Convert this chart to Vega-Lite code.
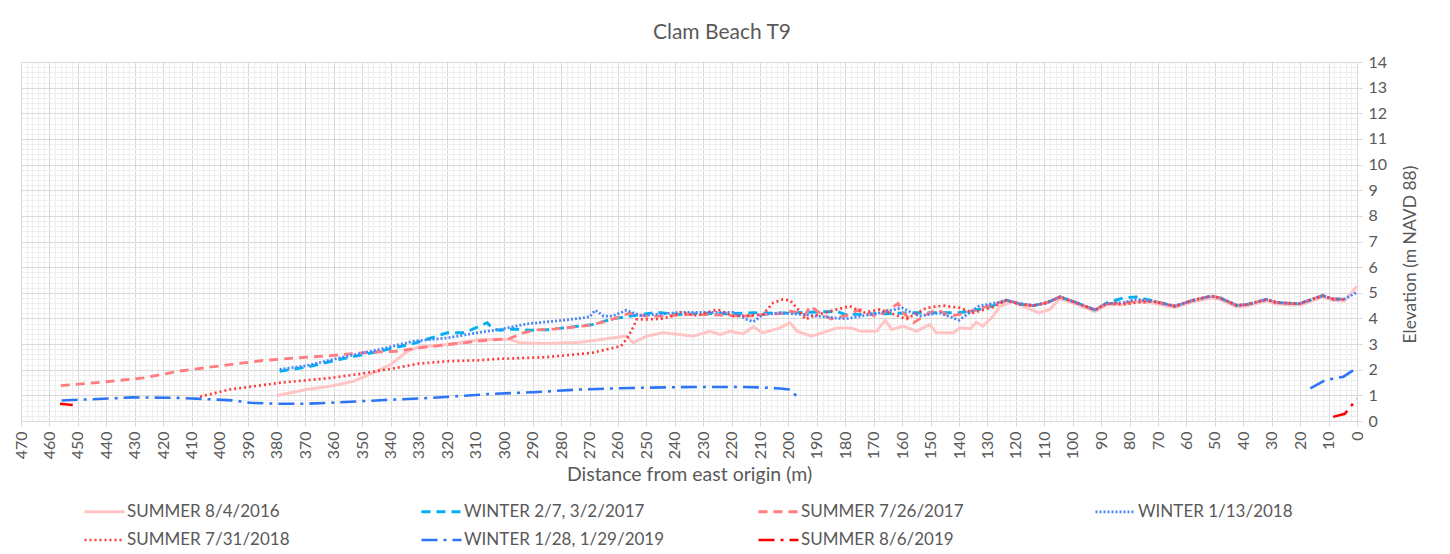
{
  "$schema": "https://vega.github.io/schema/vega-lite/v6.json",
  "width": 1336,
  "height": 359,
  "autosize": {"type": "none"},
  "padding": {"left": 21, "top": 62, "right": 93, "bottom": 133},
  "background": "#ffffff",
  "title": {"text": "Clam Beach T9", "fontSize": 21, "color": "#595959", "fontWeight": "normal", "anchor": "middle", "dx": 33, "dy": 31, "offset": 25, "baseline": "alphabetic", "font": "Lato"},
  "config": {"font": "Lato", "view": {"stroke": null}},
  "data": {"values": [
    {"s":"SUMMER 8/4/2016","g":"a","d":380,"e":0.99},{"s":"SUMMER 8/4/2016","g":"a","d":369.5,"e":1.23},{"s":"SUMMER 8/4/2016","g":"a","d":361,"e":1.36},{"s":"SUMMER 8/4/2016","g":"a","d":353,"e":1.55},{"s":"SUMMER 8/4/2016","g":"a","d":346,"e":1.88},{"s":"SUMMER 8/4/2016","g":"a","d":340,"e":2.2},{"s":"SUMMER 8/4/2016","g":"a","d":334,"e":2.72},{"s":"SUMMER 8/4/2016","g":"a","d":330,"e":2.89},{"s":"SUMMER 8/4/2016","g":"a","d":320,"e":2.98},{"s":"SUMMER 8/4/2016","g":"a","d":308.5,"e":3.18},{"s":"SUMMER 8/4/2016","g":"a","d":298,"e":3.18},{"s":"SUMMER 8/4/2016","g":"a","d":294.5,"e":3.05},{"s":"SUMMER 8/4/2016","g":"a","d":285,"e":3.02},{"s":"SUMMER 8/4/2016","g":"a","d":279,"e":3.05},{"s":"SUMMER 8/4/2016","g":"a","d":273,"e":3.07},{"s":"SUMMER 8/4/2016","g":"a","d":266,"e":3.18},{"s":"SUMMER 8/4/2016","g":"a","d":262,"e":3.24},{"s":"SUMMER 8/4/2016","g":"a","d":257,"e":3.31},{"s":"SUMMER 8/4/2016","g":"a","d":254.6,"e":3.05},{"s":"SUMMER 8/4/2016","g":"a","d":250,"e":3.31},{"s":"SUMMER 8/4/2016","g":"a","d":244,"e":3.44},{"s":"SUMMER 8/4/2016","g":"a","d":238,"e":3.37},{"s":"SUMMER 8/4/2016","g":"a","d":233.5,"e":3.31},{"s":"SUMMER 8/4/2016","g":"a","d":227.6,"e":3.5},{"s":"SUMMER 8/4/2016","g":"a","d":224,"e":3.37},{"s":"SUMMER 8/4/2016","g":"a","d":220.6,"e":3.5},{"s":"SUMMER 8/4/2016","g":"a","d":216,"e":3.4},{"s":"SUMMER 8/4/2016","g":"a","d":212.4,"e":3.67},{"s":"SUMMER 8/4/2016","g":"a","d":209,"e":3.44},{"s":"SUMMER 8/4/2016","g":"a","d":203,"e":3.63},{"s":"SUMMER 8/4/2016","g":"a","d":199.5,"e":3.83},{"s":"SUMMER 8/4/2016","g":"a","d":197,"e":3.5},{"s":"SUMMER 8/4/2016","g":"a","d":192,"e":3.31},{"s":"SUMMER 8/4/2016","g":"a","d":188,"e":3.44},{"s":"SUMMER 8/4/2016","g":"a","d":183,"e":3.63},{"s":"SUMMER 8/4/2016","g":"a","d":178,"e":3.63},{"s":"SUMMER 8/4/2016","g":"a","d":174.7,"e":3.5},{"s":"SUMMER 8/4/2016","g":"a","d":169,"e":3.5},{"s":"SUMMER 8/4/2016","g":"a","d":166,"e":3.93},{"s":"SUMMER 8/4/2016","g":"a","d":163.7,"e":3.57},{"s":"SUMMER 8/4/2016","g":"a","d":159.6,"e":3.7},{"s":"SUMMER 8/4/2016","g":"a","d":155,"e":3.5},{"s":"SUMMER 8/4/2016","g":"a","d":150.3,"e":3.76},{"s":"SUMMER 8/4/2016","g":"a","d":148,"e":3.44},{"s":"SUMMER 8/4/2016","g":"a","d":142,"e":3.44},{"s":"SUMMER 8/4/2016","g":"a","d":139.7,"e":3.63},{"s":"SUMMER 8/4/2016","g":"a","d":136,"e":3.6},{"s":"SUMMER 8/4/2016","g":"a","d":134,"e":3.85},{"s":"SUMMER 8/4/2016","g":"a","d":131.6,"e":3.7},{"s":"SUMMER 8/4/2016","g":"a","d":128,"e":4.09},{"s":"SUMMER 8/4/2016","g":"a","d":125.6,"e":4.48},{"s":"SUMMER 8/4/2016","g":"a","d":121,"e":4.65},{"s":"SUMMER 8/4/2016","g":"a","d":116,"e":4.41},{"s":"SUMMER 8/4/2016","g":"a","d":112,"e":4.22},{"s":"SUMMER 8/4/2016","g":"a","d":108,"e":4.35},{"s":"SUMMER 8/4/2016","g":"a","d":104.6,"e":4.77},{"s":"SUMMER 8/4/2016","g":"a","d":98.7,"e":4.55},{"s":"SUMMER 8/4/2016","g":"a","d":92.2,"e":4.27},{"s":"SUMMER 8/4/2016","g":"a","d":88.1,"e":4.52},{"s":"SUMMER 8/4/2016","g":"a","d":82.2,"e":4.54},{"s":"SUMMER 8/4/2016","g":"a","d":77.6,"e":4.65},{"s":"SUMMER 8/4/2016","g":"a","d":71.7,"e":4.6},{"s":"SUMMER 8/4/2016","g":"a","d":64.1,"e":4.42},{"s":"SUMMER 8/4/2016","g":"a","d":57.6,"e":4.65},{"s":"SUMMER 8/4/2016","g":"a","d":51.2,"e":4.8},{"s":"SUMMER 8/4/2016","g":"a","d":48.2,"e":4.74},{"s":"SUMMER 8/4/2016","g":"a","d":42.4,"e":4.45},{"s":"SUMMER 8/4/2016","g":"a","d":38.9,"e":4.48},{"s":"SUMMER 8/4/2016","g":"a","d":31.8,"e":4.68},{"s":"SUMMER 8/4/2016","g":"a","d":28.3,"e":4.56},{"s":"SUMMER 8/4/2016","g":"a","d":22.5,"e":4.52},{"s":"SUMMER 8/4/2016","g":"a","d":20.1,"e":4.52},{"s":"SUMMER 8/4/2016","g":"a","d":12.1,"e":4.83},{"s":"SUMMER 8/4/2016","g":"a","d":8.5,"e":4.7},{"s":"SUMMER 8/4/2016","g":"a","d":4.4,"e":4.68},{"s":"SUMMER 8/4/2016","g":"a","d":0,"e":5.26},

    {"s":"WINTER 2/7, 3/2/2017","g":"a","d":379,"e":1.94},{"s":"WINTER 2/7, 3/2/2017","g":"a","d":369.5,"e":2.1},{"s":"WINTER 2/7, 3/2/2017","g":"a","d":358,"e":2.4},{"s":"WINTER 2/7, 3/2/2017","g":"a","d":344,"e":2.72},{"s":"WINTER 2/7, 3/2/2017","g":"a","d":332,"e":3.02},{"s":"WINTER 2/7, 3/2/2017","g":"a","d":320,"e":3.44},{"s":"WINTER 2/7, 3/2/2017","g":"a","d":314,"e":3.44},{"s":"WINTER 2/7, 3/2/2017","g":"a","d":306,"e":3.83},{"s":"WINTER 2/7, 3/2/2017","g":"a","d":304,"e":3.59},{"s":"WINTER 2/7, 3/2/2017","g":"a","d":301.5,"e":3.54},{"s":"WINTER 2/7, 3/2/2017","g":"a","d":297,"e":3.59},{"s":"WINTER 2/7, 3/2/2017","g":"a","d":291,"e":3.54},{"s":"WINTER 2/7, 3/2/2017","g":"a","d":285,"e":3.56},{"s":"WINTER 2/7, 3/2/2017","g":"a","d":279,"e":3.63},{"s":"WINTER 2/7, 3/2/2017","g":"a","d":269,"e":3.76},{"s":"WINTER 2/7, 3/2/2017","g":"a","d":262,"e":3.98},{"s":"WINTER 2/7, 3/2/2017","g":"a","d":252,"e":4.15},{"s":"WINTER 2/7, 3/2/2017","g":"a","d":246.5,"e":4.24},{"s":"WINTER 2/7, 3/2/2017","g":"a","d":238,"e":4.15},{"s":"WINTER 2/7, 3/2/2017","g":"a","d":230,"e":4.2},{"s":"WINTER 2/7, 3/2/2017","g":"a","d":222,"e":4.18},{"s":"WINTER 2/7, 3/2/2017","g":"a","d":212,"e":4.22},{"s":"WINTER 2/7, 3/2/2017","g":"a","d":205,"e":4.2},{"s":"WINTER 2/7, 3/2/2017","g":"a","d":198,"e":4.22},{"s":"WINTER 2/7, 3/2/2017","g":"a","d":190,"e":4.25},{"s":"WINTER 2/7, 3/2/2017","g":"a","d":183,"e":4.28},{"s":"WINTER 2/7, 3/2/2017","g":"a","d":180,"e":4.15},{"s":"WINTER 2/7, 3/2/2017","g":"a","d":168,"e":4.18},{"s":"WINTER 2/7, 3/2/2017","g":"a","d":156,"e":4.22},{"s":"WINTER 2/7, 3/2/2017","g":"a","d":147,"e":4.22},{"s":"WINTER 2/7, 3/2/2017","g":"a","d":140,"e":4.22},{"s":"WINTER 2/7, 3/2/2017","g":"a","d":133,"e":4.35},{"s":"WINTER 2/7, 3/2/2017","g":"a","d":128,"e":4.5},{"s":"WINTER 2/7, 3/2/2017","g":"a","d":123.3,"e":4.71},{"s":"WINTER 2/7, 3/2/2017","g":"a","d":118.6,"e":4.56},{"s":"WINTER 2/7, 3/2/2017","g":"a","d":113.9,"e":4.5},{"s":"WINTER 2/7, 3/2/2017","g":"a","d":109.2,"e":4.61},{"s":"WINTER 2/7, 3/2/2017","g":"a","d":104.5,"e":4.84},{"s":"WINTER 2/7, 3/2/2017","g":"a","d":98.7,"e":4.62},{"s":"WINTER 2/7, 3/2/2017","g":"a","d":92.2,"e":4.33},{"s":"WINTER 2/7, 3/2/2017","g":"a","d":88.1,"e":4.6},{"s":"WINTER 2/7, 3/2/2017","g":"a","d":82.2,"e":4.8},{"s":"WINTER 2/7, 3/2/2017","g":"a","d":77.6,"e":4.84},{"s":"WINTER 2/7, 3/2/2017","g":"a","d":71.7,"e":4.68},{"s":"WINTER 2/7, 3/2/2017","g":"a","d":64.1,"e":4.48},{"s":"WINTER 2/7, 3/2/2017","g":"a","d":57.6,"e":4.71},{"s":"WINTER 2/7, 3/2/2017","g":"a","d":51.2,"e":4.87},{"s":"WINTER 2/7, 3/2/2017","g":"a","d":48.2,"e":4.8},{"s":"WINTER 2/7, 3/2/2017","g":"a","d":42.4,"e":4.51},{"s":"WINTER 2/7, 3/2/2017","g":"a","d":38.9,"e":4.54},{"s":"WINTER 2/7, 3/2/2017","g":"a","d":31.8,"e":4.74},{"s":"WINTER 2/7, 3/2/2017","g":"a","d":28.3,"e":4.62},{"s":"WINTER 2/7, 3/2/2017","g":"a","d":22.5,"e":4.58},{"s":"WINTER 2/7, 3/2/2017","g":"a","d":20.1,"e":4.58},{"s":"WINTER 2/7, 3/2/2017","g":"a","d":12.1,"e":4.89},{"s":"WINTER 2/7, 3/2/2017","g":"a","d":8.5,"e":4.76},{"s":"WINTER 2/7, 3/2/2017","g":"a","d":4.4,"e":4.74},

    {"s":"SUMMER 7/26/2017","g":"a","d":456,"e":1.38},{"s":"SUMMER 7/26/2017","g":"a","d":440,"e":1.53},{"s":"SUMMER 7/26/2017","g":"a","d":427,"e":1.68},{"s":"SUMMER 7/26/2017","g":"a","d":414,"e":1.95},{"s":"SUMMER 7/26/2017","g":"a","d":400,"e":2.15},{"s":"SUMMER 7/26/2017","g":"a","d":385,"e":2.36},{"s":"SUMMER 7/26/2017","g":"a","d":373,"e":2.46},{"s":"SUMMER 7/26/2017","g":"a","d":361,"e":2.55},{"s":"SUMMER 7/26/2017","g":"a","d":348,"e":2.68},{"s":"SUMMER 7/26/2017","g":"a","d":338,"e":2.72},{"s":"SUMMER 7/26/2017","g":"a","d":330,"e":2.85},{"s":"SUMMER 7/26/2017","g":"a","d":320,"e":2.98},{"s":"SUMMER 7/26/2017","g":"a","d":308,"e":3.13},{"s":"SUMMER 7/26/2017","g":"a","d":298,"e":3.22},{"s":"SUMMER 7/26/2017","g":"a","d":293,"e":3.45},{"s":"SUMMER 7/26/2017","g":"a","d":289,"e":3.55},{"s":"SUMMER 7/26/2017","g":"a","d":282,"e":3.59},{"s":"SUMMER 7/26/2017","g":"a","d":271,"e":3.72},{"s":"SUMMER 7/26/2017","g":"a","d":264,"e":3.89},{"s":"SUMMER 7/26/2017","g":"a","d":256,"e":4.2},{"s":"SUMMER 7/26/2017","g":"a","d":250,"e":4.09},{"s":"SUMMER 7/26/2017","g":"a","d":243,"e":4.09},{"s":"SUMMER 7/26/2017","g":"a","d":236,"e":4.15},{"s":"SUMMER 7/26/2017","g":"a","d":228,"e":4.15},{"s":"SUMMER 7/26/2017","g":"a","d":219,"e":4.11},{"s":"SUMMER 7/26/2017","g":"a","d":214,"e":4.09},{"s":"SUMMER 7/26/2017","g":"a","d":210,"e":4.15},{"s":"SUMMER 7/26/2017","g":"a","d":203,"e":4.19},{"s":"SUMMER 7/26/2017","g":"a","d":199,"e":4.28},{"s":"SUMMER 7/26/2017","g":"a","d":194,"e":4.15},{"s":"SUMMER 7/26/2017","g":"a","d":192.5,"e":4.48},{"s":"SUMMER 7/26/2017","g":"a","d":189,"e":4.22},{"s":"SUMMER 7/26/2017","g":"a","d":185,"e":3.98},{"s":"SUMMER 7/26/2017","g":"a","d":180,"e":4.1},{"s":"SUMMER 7/26/2017","g":"a","d":175,"e":4.35},{"s":"SUMMER 7/26/2017","g":"a","d":169,"e":4.06},{"s":"SUMMER 7/26/2017","g":"a","d":165.5,"e":4.3},{"s":"SUMMER 7/26/2017","g":"a","d":161.4,"e":4.58},{"s":"SUMMER 7/26/2017","g":"a","d":159.6,"e":4.22},{"s":"SUMMER 7/26/2017","g":"a","d":156,"e":3.83},{"s":"SUMMER 7/26/2017","g":"a","d":151.5,"e":4.15},{"s":"SUMMER 7/26/2017","g":"a","d":148,"e":4.35},{"s":"SUMMER 7/26/2017","g":"a","d":143,"e":4.09},{"s":"SUMMER 7/26/2017","g":"a","d":137.4,"e":4.22},{"s":"SUMMER 7/26/2017","g":"a","d":132.7,"e":4.39},{"s":"SUMMER 7/26/2017","g":"a","d":128,"e":4.54},{"s":"SUMMER 7/26/2017","g":"a","d":123.3,"e":4.71},{"s":"SUMMER 7/26/2017","g":"a","d":118.6,"e":4.57},{"s":"SUMMER 7/26/2017","g":"a","d":113.9,"e":4.5},{"s":"SUMMER 7/26/2017","g":"a","d":109.2,"e":4.62},{"s":"SUMMER 7/26/2017","g":"a","d":104.5,"e":4.84},{"s":"SUMMER 7/26/2017","g":"a","d":98.7,"e":4.6},{"s":"SUMMER 7/26/2017","g":"a","d":92.2,"e":4.33},{"s":"SUMMER 7/26/2017","g":"a","d":88.1,"e":4.58},{"s":"SUMMER 7/26/2017","g":"a","d":82.2,"e":4.6},{"s":"SUMMER 7/26/2017","g":"a","d":77.6,"e":4.7},{"s":"SUMMER 7/26/2017","g":"a","d":71.7,"e":4.67},{"s":"SUMMER 7/26/2017","g":"a","d":64.1,"e":4.48},{"s":"SUMMER 7/26/2017","g":"a","d":57.6,"e":4.71},{"s":"SUMMER 7/26/2017","g":"a","d":51.2,"e":4.87},{"s":"SUMMER 7/26/2017","g":"a","d":48.2,"e":4.8},{"s":"SUMMER 7/26/2017","g":"a","d":42.4,"e":4.51},{"s":"SUMMER 7/26/2017","g":"a","d":38.9,"e":4.54},{"s":"SUMMER 7/26/2017","g":"a","d":31.8,"e":4.74},{"s":"SUMMER 7/26/2017","g":"a","d":28.3,"e":4.62},{"s":"SUMMER 7/26/2017","g":"a","d":22.5,"e":4.58},{"s":"SUMMER 7/26/2017","g":"a","d":20.1,"e":4.58},{"s":"SUMMER 7/26/2017","g":"a","d":12.1,"e":4.89},{"s":"SUMMER 7/26/2017","g":"a","d":8.5,"e":4.76},{"s":"SUMMER 7/26/2017","g":"a","d":4.4,"e":4.74},

    {"s":"WINTER 1/13/2018","g":"a","d":379,"e":2.01},{"s":"WINTER 1/13/2018","g":"a","d":369.5,"e":2.16},{"s":"WINTER 1/13/2018","g":"a","d":358,"e":2.46},{"s":"WINTER 1/13/2018","g":"a","d":344,"e":2.79},{"s":"WINTER 1/13/2018","g":"a","d":332,"e":3.11},{"s":"WINTER 1/13/2018","g":"a","d":320,"e":3.24},{"s":"WINTER 1/13/2018","g":"a","d":308.5,"e":3.46},{"s":"WINTER 1/13/2018","g":"a","d":301.5,"e":3.57},{"s":"WINTER 1/13/2018","g":"a","d":292,"e":3.79},{"s":"WINTER 1/13/2018","g":"a","d":279,"e":3.93},{"s":"WINTER 1/13/2018","g":"a","d":270,"e":4.06},{"s":"WINTER 1/13/2018","g":"a","d":268,"e":4.32},{"s":"WINTER 1/13/2018","g":"a","d":265,"e":4.09},{"s":"WINTER 1/13/2018","g":"a","d":262,"e":4.09},{"s":"WINTER 1/13/2018","g":"a","d":257,"e":4.32},{"s":"WINTER 1/13/2018","g":"a","d":252,"e":4.11},{"s":"WINTER 1/13/2018","g":"a","d":243,"e":4.19},{"s":"WINTER 1/13/2018","g":"a","d":238,"e":4.24},{"s":"WINTER 1/13/2018","g":"a","d":226.5,"e":4.24},{"s":"WINTER 1/13/2018","g":"a","d":219.4,"e":4.24},{"s":"WINTER 1/13/2018","g":"a","d":214.7,"e":3.96},{"s":"WINTER 1/13/2018","g":"a","d":212.4,"e":3.87},{"s":"WINTER 1/13/2018","g":"a","d":209,"e":4.15},{"s":"WINTER 1/13/2018","g":"a","d":203,"e":4.22},{"s":"WINTER 1/13/2018","g":"a","d":195,"e":4.15},{"s":"WINTER 1/13/2018","g":"a","d":180,"e":3.98},{"s":"WINTER 1/13/2018","g":"a","d":168,"e":4.22},{"s":"WINTER 1/13/2018","g":"a","d":160,"e":4.41},{"s":"WINTER 1/13/2018","g":"a","d":154,"e":4.09},{"s":"WINTER 1/13/2018","g":"a","d":147,"e":4.22},{"s":"WINTER 1/13/2018","g":"a","d":140,"e":3.93},{"s":"WINTER 1/13/2018","g":"a","d":133,"e":4.48},{"s":"WINTER 1/13/2018","g":"a","d":126,"e":4.63},{"s":"WINTER 1/13/2018","g":"a","d":123.3,"e":4.71},{"s":"WINTER 1/13/2018","g":"a","d":118.6,"e":4.58},{"s":"WINTER 1/13/2018","g":"a","d":113.9,"e":4.5},{"s":"WINTER 1/13/2018","g":"a","d":109.2,"e":4.61},{"s":"WINTER 1/13/2018","g":"a","d":104.5,"e":4.84},{"s":"WINTER 1/13/2018","g":"a","d":98.7,"e":4.62},{"s":"WINTER 1/13/2018","g":"a","d":92.2,"e":4.33},{"s":"WINTER 1/13/2018","g":"a","d":88.1,"e":4.58},{"s":"WINTER 1/13/2018","g":"a","d":82.2,"e":4.62},{"s":"WINTER 1/13/2018","g":"a","d":77.6,"e":4.74},{"s":"WINTER 1/13/2018","g":"a","d":71.7,"e":4.67},{"s":"WINTER 1/13/2018","g":"a","d":64.1,"e":4.48},{"s":"WINTER 1/13/2018","g":"a","d":57.6,"e":4.71},{"s":"WINTER 1/13/2018","g":"a","d":51.2,"e":4.87},{"s":"WINTER 1/13/2018","g":"a","d":48.2,"e":4.8},{"s":"WINTER 1/13/2018","g":"a","d":42.4,"e":4.51},{"s":"WINTER 1/13/2018","g":"a","d":38.9,"e":4.54},{"s":"WINTER 1/13/2018","g":"a","d":31.8,"e":4.74},{"s":"WINTER 1/13/2018","g":"a","d":28.3,"e":4.62},{"s":"WINTER 1/13/2018","g":"a","d":22.5,"e":4.58},{"s":"WINTER 1/13/2018","g":"a","d":20.1,"e":4.58},{"s":"WINTER 1/13/2018","g":"a","d":12.1,"e":4.89},{"s":"WINTER 1/13/2018","g":"a","d":8.5,"e":4.76},{"s":"WINTER 1/13/2018","g":"a","d":4.4,"e":4.76},{"s":"WINTER 1/13/2018","g":"a","d":0,"e":5.02},

    {"s":"SUMMER 7/31/2018","g":"a","d":407,"e":0.95},{"s":"SUMMER 7/31/2018","g":"a","d":396.5,"e":1.23},{"s":"SUMMER 7/31/2018","g":"a","d":379,"e":1.49},{"s":"SUMMER 7/31/2018","g":"a","d":361,"e":1.68},{"s":"SUMMER 7/31/2018","g":"a","d":350,"e":1.85},{"s":"SUMMER 7/31/2018","g":"a","d":338,"e":2.07},{"s":"SUMMER 7/31/2018","g":"a","d":330,"e":2.24},{"s":"SUMMER 7/31/2018","g":"a","d":320,"e":2.33},{"s":"SUMMER 7/31/2018","g":"a","d":308.5,"e":2.37},{"s":"SUMMER 7/31/2018","g":"a","d":303,"e":2.42},{"s":"SUMMER 7/31/2018","g":"a","d":285,"e":2.49},{"s":"SUMMER 7/31/2018","g":"a","d":269,"e":2.66},{"s":"SUMMER 7/31/2018","g":"a","d":259,"e":2.92},{"s":"SUMMER 7/31/2018","g":"a","d":257,"e":3.18},{"s":"SUMMER 7/31/2018","g":"a","d":255,"e":3.57},{"s":"SUMMER 7/31/2018","g":"a","d":253.4,"e":3.96},{"s":"SUMMER 7/31/2018","g":"a","d":251,"e":3.96},{"s":"SUMMER 7/31/2018","g":"a","d":245,"e":3.98},{"s":"SUMMER 7/31/2018","g":"a","d":240.5,"e":4.11},{"s":"SUMMER 7/31/2018","g":"a","d":238,"e":4.24},{"s":"SUMMER 7/31/2018","g":"a","d":232,"e":4.11},{"s":"SUMMER 7/31/2018","g":"a","d":225,"e":4.35},{"s":"SUMMER 7/31/2018","g":"a","d":219.4,"e":4.09},{"s":"SUMMER 7/31/2018","g":"a","d":214.7,"e":4.11},{"s":"SUMMER 7/31/2018","g":"a","d":209,"e":4.15},{"s":"SUMMER 7/31/2018","g":"a","d":205.4,"e":4.61},{"s":"SUMMER 7/31/2018","g":"a","d":202,"e":4.74},{"s":"SUMMER 7/31/2018","g":"a","d":199.4,"e":4.7},{"s":"SUMMER 7/31/2018","g":"a","d":196.6,"e":4.35},{"s":"SUMMER 7/31/2018","g":"a","d":194,"e":3.96},{"s":"SUMMER 7/31/2018","g":"a","d":191.3,"e":4.09},{"s":"SUMMER 7/31/2018","g":"a","d":185.4,"e":4.28},{"s":"SUMMER 7/31/2018","g":"a","d":178.4,"e":4.48},{"s":"SUMMER 7/31/2018","g":"a","d":173.7,"e":4.22},{"s":"SUMMER 7/31/2018","g":"a","d":167.8,"e":4.35},{"s":"SUMMER 7/31/2018","g":"a","d":158.5,"e":3.98},{"s":"SUMMER 7/31/2018","g":"a","d":151.5,"e":4.41},{"s":"SUMMER 7/31/2018","g":"a","d":145.6,"e":4.5},{"s":"SUMMER 7/31/2018","g":"a","d":139.7,"e":4.41},{"s":"SUMMER 7/31/2018","g":"a","d":135,"e":4.22},{"s":"SUMMER 7/31/2018","g":"a","d":128,"e":4.45},{"s":"SUMMER 7/31/2018","g":"a","d":123.3,"e":4.71},{"s":"SUMMER 7/31/2018","g":"a","d":118.6,"e":4.55},{"s":"SUMMER 7/31/2018","g":"a","d":113.9,"e":4.5},{"s":"SUMMER 7/31/2018","g":"a","d":109.2,"e":4.6},{"s":"SUMMER 7/31/2018","g":"a","d":104.5,"e":4.84},{"s":"SUMMER 7/31/2018","g":"a","d":98.7,"e":4.6},{"s":"SUMMER 7/31/2018","g":"a","d":92.2,"e":4.33},{"s":"SUMMER 7/31/2018","g":"a","d":88.1,"e":4.58},{"s":"SUMMER 7/31/2018","g":"a","d":82.2,"e":4.55},{"s":"SUMMER 7/31/2018","g":"a","d":77.6,"e":4.62},{"s":"SUMMER 7/31/2018","g":"a","d":71.7,"e":4.66},{"s":"SUMMER 7/31/2018","g":"a","d":64.1,"e":4.48},{"s":"SUMMER 7/31/2018","g":"a","d":57.6,"e":4.71},{"s":"SUMMER 7/31/2018","g":"a","d":51.2,"e":4.88},{"s":"SUMMER 7/31/2018","g":"a","d":48.2,"e":4.8},{"s":"SUMMER 7/31/2018","g":"a","d":42.4,"e":4.51},{"s":"SUMMER 7/31/2018","g":"a","d":38.9,"e":4.54},{"s":"SUMMER 7/31/2018","g":"a","d":31.8,"e":4.74},{"s":"SUMMER 7/31/2018","g":"a","d":28.3,"e":4.62},{"s":"SUMMER 7/31/2018","g":"a","d":22.5,"e":4.58},{"s":"SUMMER 7/31/2018","g":"a","d":20.1,"e":4.58},{"s":"SUMMER 7/31/2018","g":"a","d":12.1,"e":4.89},{"s":"SUMMER 7/31/2018","g":"a","d":8.5,"e":4.76},{"s":"SUMMER 7/31/2018","g":"a","d":4.4,"e":4.74},

    {"s":"WINTER 1/28, 1/29/2019","g":"a","d":455.7,"e":0.8},{"s":"WINTER 1/28, 1/29/2019","g":"a","d":443,"e":0.86},{"s":"WINTER 1/28, 1/29/2019","g":"a","d":430.5,"e":0.92},{"s":"WINTER 1/28, 1/29/2019","g":"a","d":414,"e":0.9},{"s":"WINTER 1/28, 1/29/2019","g":"a","d":402.3,"e":0.84},{"s":"WINTER 1/28, 1/29/2019","g":"a","d":395,"e":0.8},{"s":"WINTER 1/28, 1/29/2019","g":"a","d":389.4,"e":0.71},{"s":"WINTER 1/28, 1/29/2019","g":"a","d":378.9,"e":0.67},{"s":"WINTER 1/28, 1/29/2019","g":"a","d":370,"e":0.67},{"s":"WINTER 1/28, 1/29/2019","g":"a","d":361.3,"e":0.71},{"s":"WINTER 1/28, 1/29/2019","g":"a","d":343.7,"e":0.81},{"s":"WINTER 1/28, 1/29/2019","g":"a","d":326.1,"e":0.9},{"s":"WINTER 1/28, 1/29/2019","g":"a","d":303.9,"e":1.06},{"s":"WINTER 1/28, 1/29/2019","g":"a","d":290,"e":1.12},{"s":"WINTER 1/28, 1/29/2019","g":"a","d":273.4,"e":1.23},{"s":"WINTER 1/28, 1/29/2019","g":"a","d":255,"e":1.29},{"s":"WINTER 1/28, 1/29/2019","g":"a","d":238,"e":1.32},{"s":"WINTER 1/28, 1/29/2019","g":"a","d":219.4,"e":1.33},{"s":"WINTER 1/28, 1/29/2019","g":"a","d":210,"e":1.31},{"s":"WINTER 1/28, 1/29/2019","g":"a","d":203,"e":1.27},{"s":"WINTER 1/28, 1/29/2019","g":"a","d":199.5,"e":1.23},{"s":"WINTER 1/28, 1/29/2019","g":"a","d":196,"e":0.84},
    {"s":"WINTER 1/28, 1/29/2019","g":"b","d":16.4,"e":1.27},{"s":"WINTER 1/28, 1/29/2019","g":"b","d":11.3,"e":1.58},{"s":"WINTER 1/28, 1/29/2019","g":"b","d":8.2,"e":1.66},{"s":"WINTER 1/28, 1/29/2019","g":"b","d":4.9,"e":1.72},{"s":"WINTER 1/28, 1/29/2019","g":"b","d":0,"e":2.07},

    {"s":"SUMMER 8/6/2019","g":"a","d":456.3,"e":0.67},{"s":"SUMMER 8/6/2019","g":"a","d":451.8,"e":0.62},
    {"s":"SUMMER 8/6/2019","g":"b","d":8.4,"e":0.16},{"s":"SUMMER 8/6/2019","g":"b","d":4.3,"e":0.28},{"s":"SUMMER 8/6/2019","g":"b","d":0,"e":0.87}
  ]},
  "mark": {"type": "line", "clip": true},
  "encoding": {
    "x": {"field": "d", "type": "quantitative",
      "scale": {"domain": [0, 470], "reverse": true, "nice": false, "zero": false},
      "axis": {
        "values": [0,2,4,6,8,10,12,14,16,18,20,22,24,26,28,30,32,34,36,38,40,42,44,46,48,50,52,54,56,58,60,62,64,66,68,70,72,74,76,78,80,82,84,86,88,90,92,94,96,98,100,102,104,106,108,110,112,114,116,118,120,122,124,126,128,130,132,134,136,138,140,142,144,146,148,150,152,154,156,158,160,162,164,166,168,170,172,174,176,178,180,182,184,186,188,190,192,194,196,198,200,202,204,206,208,210,212,214,216,218,220,222,224,226,228,230,232,234,236,238,240,242,244,246,248,250,252,254,256,258,260,262,264,266,268,270,272,274,276,278,280,282,284,286,288,290,292,294,296,298,300,302,304,306,308,310,312,314,316,318,320,322,324,326,328,330,332,334,336,338,340,342,344,346,348,350,352,354,356,358,360,362,364,366,368,370,372,374,376,378,380,382,384,386,388,390,392,394,396,398,400,402,404,406,408,410,412,414,416,418,420,422,424,426,428,430,432,434,436,438,440,442,444,446,448,450,452,454,456,458,460,462,464,466,468,470],
        "labelExpr": "datum.value % 10 === 0 ? format(datum.value, 'd') : ''",
        "labelAngle": -90,
        "labelOverlap": false,
        "labelFlush": false,
        "labelFontSize": 16,
        "labelColor": "#595959",
        "labelPadding": 5,
        "gridColor": {"condition": {"test": "datum.value % 10 === 0", "value": "#d9d9d9"}, "value": "#eeeeee"},
        "tickOpacity": {"condition": {"test": "datum.value % 10 === 0", "value": 1}, "value": 0},
        "tickColor": "#d9d9d9",
        "tickSize": 5,
        "domainColor": "#d9d9d9",
        "title": "Distance from east origin (m)",
        "titleFontSize": 19.5,
        "titleFontWeight": "normal",
        "titleColor": "#595959",
        "titleY": 59,
        "titleBaseline": "alphabetic"
      }
    },
    "y": {"field": "e", "type": "quantitative",
      "scale": {"domain": [0, 14], "nice": false, "zero": false},
      "axis": {
        "orient": "right",
        "values": [0,0.2,0.4,0.6,0.8,1,1.2,1.4,1.6,1.8,2,2.2,2.4,2.6,2.8,3,3.2,3.4,3.6,3.8,4,4.2,4.4,4.6,4.8,5,5.2,5.4,5.6,5.8,6,6.2,6.4,6.6,6.8,7,7.2,7.4,7.6,7.8,8,8.2,8.4,8.6,8.8,9,9.2,9.4,9.6,9.8,10,10.2,10.4,10.6,10.8,11,11.2,11.4,11.6,11.8,12,12.2,12.4,12.6,12.8,13,13.2,13.4,13.6,13.8,14],
        "labelExpr": "abs(datum.value - round(datum.value)) < 0.001 ? format(datum.value, 'd') : ''",
        "labelOverlap": false,
        "labelFlush": false,
        "labelFontSize": 16,
        "labelColor": "#595959",
        "labelPadding": 6,
        "gridColor": {"condition": {"test": "abs(datum.value - round(datum.value)) < 0.001", "value": "#d9d9d9"}, "value": "#eeeeee"},
        "tickOpacity": {"condition": {"test": "abs(datum.value - round(datum.value)) < 0.001", "value": 1}, "value": 0},
        "tickColor": "#d9d9d9",
        "tickSize": 5,
        "domainColor": "#d9d9d9",
        "title": "Elevation (m NAVD 88)",
        "titleFontSize": 17.5,
        "titleFontWeight": "normal",
        "titleColor": "#595959",
        "titleAngle": 270,
        "titleX": 53,
        "titleY": 192,
        "titleAlign": "center",
        "titleBaseline": "middle"
      }
    },
    "detail": {"field": "g", "type": "nominal"},
    "color": {"field": "s", "type": "nominal", "title": null,
      "scale": {"domain": ["SUMMER 8/4/2016","WINTER 2/7, 3/2/2017","SUMMER 7/26/2017","WINTER 1/13/2018","SUMMER 7/31/2018","WINTER 1/28, 1/29/2019","SUMMER 8/6/2019"],
                "range": ["#FFC5C5","#00B0F0","#FF7C80","#4A86F7","#FF3B3B","#2E75F6","#FF0000"]},
      "legend": {"orient": "none", "legendX": 72, "legendY": 438, "direction": "horizontal", "columns": 4, "gridAlign": "all", "columnPadding": 87, "rowPadding": 8.5, "symbolType": "M-2,0H2", "symbolSize": 400, "labelOffset": 11, "labelFontSize": 17, "labelColor": "#595959", "labelFont": "Lato", "padding": 0, "labelLimit": 0, "title": null}
    },
    "strokeDash": {"field": "s", "type": "nominal", "title": null,
      "scale": {"domain": ["SUMMER 8/4/2016","WINTER 2/7, 3/2/2017","SUMMER 7/26/2017","WINTER 1/13/2018","SUMMER 7/31/2018","WINTER 1/28, 1/29/2019","SUMMER 8/6/2019"],
                "range": [[1,0],[9,6],[9,6],[2,2],[2,3],[16,6,3,6],[16,6,3,6]]}
    },
    "strokeWidth": {"field": "s", "type": "nominal", "title": null,
      "scale": {"domain": ["SUMMER 8/4/2016","WINTER 2/7, 3/2/2017","SUMMER 7/26/2017","WINTER 1/13/2018","SUMMER 7/31/2018","WINTER 1/28, 1/29/2019","SUMMER 8/6/2019"],
                "range": [3,2.5,2.5,1.8,2,2.7,2.5]}
    }
  }
}
